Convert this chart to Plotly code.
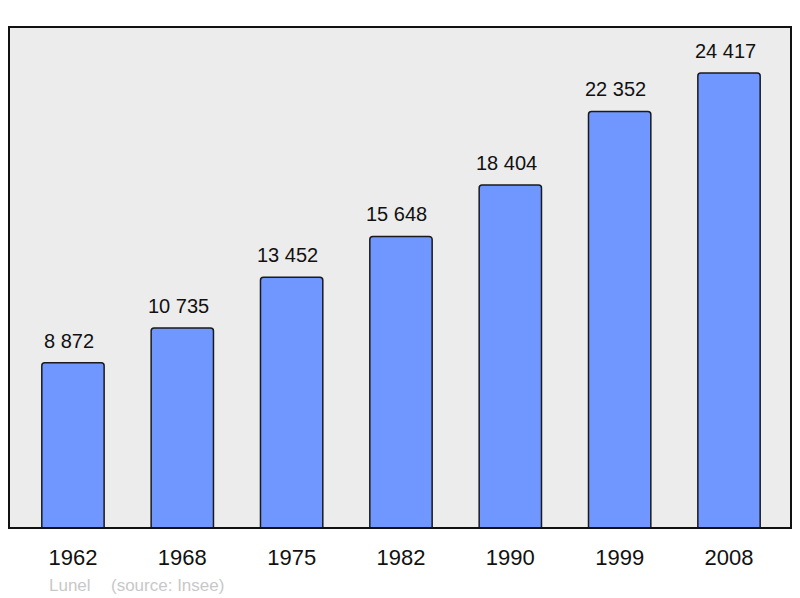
import plotly.graph_objects as go

years = ["1962", "1968", "1975", "1982", "1990", "1999", "2008"]
population = [8872, 10735, 13452, 15648, 18404, 22352, 24417]
value_labels = ["8 872", "10 735", "13 452", "15 648", "18 404", "22 352", "24 417"]

x_pos = list(range(len(years)))
FONT = "Liberation Sans, Arial, sans-serif"

fig = go.Figure()
fig.add_trace(go.Bar(
    x=x_pos, y=population, width=0.57,
    marker=dict(color="#7096ff", line=dict(color="#1a1a1a", width=1.5), cornerradius=3),
    hoverinfo="skip",
))

for xp, v, lab in zip(x_pos, population, value_labels):
    fig.add_annotation(x=xp, y=v, text=lab, showarrow=False, yanchor="middle", yshift=22, xshift=-4,
                       font=dict(family=FONT, size=20, color="#111"))

fig.add_shape(type="rect", xref="paper", yref="paper", x0=0, y0=0, x1=1, y1=1,
              line=dict(color="#111", width=2), layer="above")

fig.add_annotation(xref="paper", yref="paper", x=(47 - 9) / 782, y=0, xanchor="left", yanchor="top",
                   yshift=-46, text="Lunel", showarrow=False,
                   font=dict(family=FONT, size=17, color="#c8c8c8"))
fig.add_annotation(xref="paper", yref="paper", x=(109 - 9) / 782, y=0, xanchor="left", yanchor="top",
                   yshift=-46, text="(source: Insee)", showarrow=False,
                   font=dict(family=FONT, size=17, color="#c8c8c8"))

fig.update_layout(
    width=800, height=598,
    margin=dict(l=9, r=9, t=27, b=70),
    paper_bgcolor="white", plot_bgcolor="#ececec",
    showlegend=False,
    xaxis=dict(tickmode="array", tickvals=x_pos, ticktext=years, range=[-0.585, 6.567],
               showgrid=False, zeroline=False, ticks="outside", ticklen=10, tickcolor="rgba(0,0,0,0)",
               tickfont=dict(family=FONT, size=22, color="#111"),
               fixedrange=True),
    yaxis=dict(range=[0, 26885], showgrid=False, zeroline=False, showticklabels=False, fixedrange=True),
)

fig.write_html("out.html", config={"displayModeBar": False},
               post_script="document.body.style.margin='0';document.body.style.overflow='hidden';")
